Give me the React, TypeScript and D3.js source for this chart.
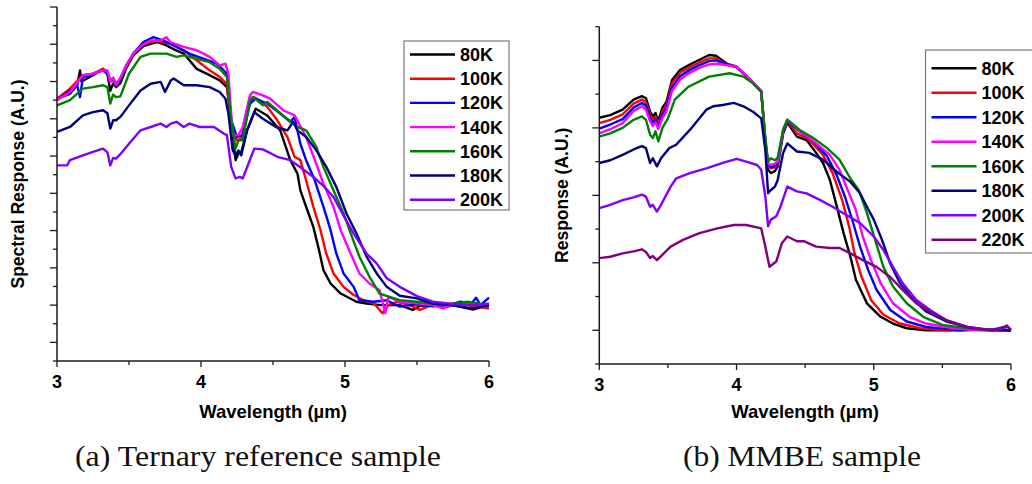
import React from "react";
import * as d3 from "d3";

type P = [number, number];

// ---------- Panel (a): Ternary reference sample ----------
const labelsA = ["80K", "100K", "120K", "140K", "160K", "180K", "200K"];
const colorsA = ["#000000", "#ff0000", "#0000ff", "#ff00ff", "#008000", "#000080", "#8000ff"];

const a80: P[] = [[3.0,5.54],[3.09,5.67],[3.14,5.9],[3.16,6.3],[3.17,6.0],[3.25,6.17],[3.32,6.34],[3.35,6.2],[3.37,5.75],[3.39,5.95],[3.41,5.85],[3.44,5.95],[3.48,6.35],[3.53,6.7],[3.6,6.95],[3.65,7.01],[3.7,7.06],[3.76,6.97],[3.82,6.85],[3.88,6.75],[3.97,6.34],[4.06,6.17],[4.13,6.03],[4.18,5.85],[4.21,4.96],[4.24,3.89],[4.26,4.07],[4.28,4.11],[4.32,4.69],[4.38,5.27],[4.46,5.09],[4.55,4.69],[4.62,3.89],[4.67,3.53],[4.69,3.08],[4.73,2.64],[4.78,2.1],[4.82,1.47],[4.85,0.94],[4.9,0.58],[4.97,0.31],[5.08,0.09],[5.15,0.04],[5.25,0.0],[5.38,0.0],[5.47,-0.13],[5.52,-0.02],[5.61,0.0],[5.75,0.0],[5.89,-0.12],[5.95,-0.05],[6.0,0.0]];
const a100: P[] = [[3.0,5.54],[3.09,5.81],[3.18,6.17],[3.25,6.21],[3.32,6.34],[3.35,6.25],[3.37,6.03],[3.39,6.1],[3.41,5.94],[3.44,6.08],[3.48,6.39],[3.53,6.75],[3.6,7.01],[3.69,7.1],[3.79,7.01],[3.88,6.84],[3.97,6.57],[4.06,6.3],[4.13,6.12],[4.18,5.94],[4.21,4.69],[4.25,4.42],[4.28,4.47],[4.33,5.32],[4.37,5.58],[4.46,5.32],[4.53,4.96],[4.6,4.51],[4.65,3.98],[4.69,3.89],[4.73,3.35],[4.78,2.64],[4.83,2.01],[4.87,1.38],[4.92,0.85],[4.99,0.49],[5.06,0.27],[5.13,0.13],[5.2,0.05],[5.26,-0.22],[5.3,0.0],[5.36,0.09],[5.45,0.0],[5.52,-0.13],[5.6,0.0],[5.75,0.04],[5.85,0.0],[6.0,-0.09]];
const a120: P[] = [[3.0,5.5],[3.09,5.76],[3.14,5.9],[3.16,5.58],[3.18,6.12],[3.25,6.2],[3.32,6.3],[3.35,6.2],[3.37,5.99],[3.39,6.05],[3.41,5.9],[3.44,6.05],[3.48,6.43],[3.53,6.75],[3.6,7.06],[3.67,7.19],[3.74,7.1],[3.83,6.93],[3.92,6.75],[4.02,6.61],[4.11,6.48],[4.18,6.21],[4.21,4.96],[4.25,4.51],[4.29,4.56],[4.34,5.41],[4.38,5.54],[4.46,5.41],[4.55,5.14],[4.62,4.92],[4.65,5.05],[4.69,4.33],[4.73,3.89],[4.79,3.35],[4.85,2.64],[4.9,2.01],[4.94,1.38],[4.99,0.85],[5.06,0.49],[5.1,0.13],[5.2,0.09],[5.29,0.13],[5.38,-0.04],[5.5,0.02],[5.61,-0.03],[5.72,0.0],[5.8,0.09],[5.88,0.05],[5.91,0.2],[5.94,0.0],[6.0,0.2]];
const a140: P[] = [[3.0,5.5],[3.09,5.72],[3.18,6.17],[3.25,6.21],[3.32,6.3],[3.35,6.3],[3.37,5.99],[3.39,6.1],[3.41,5.9],[3.44,6.1],[3.48,6.43],[3.53,6.75],[3.59,6.97],[3.65,7.1],[3.72,7.1],[3.76,7.19],[3.79,7.05],[3.88,6.93],[3.97,6.84],[4.06,6.66],[4.13,6.43],[4.17,6.48],[4.19,6.21],[4.22,4.56],[4.26,4.56],[4.29,4.78],[4.34,5.63],[4.36,5.72],[4.43,5.63],[4.48,5.54],[4.57,5.23],[4.65,5.09],[4.73,4.51],[4.8,3.8],[4.85,3.26],[4.92,2.64],[4.97,2.01],[5.04,1.38],[5.1,0.85],[5.17,0.58],[5.24,0.4],[5.28,-0.22],[5.3,0.22],[5.38,0.09],[5.5,0.05],[5.61,0.0],[5.68,-0.09],[5.75,0.0],[5.85,0.04],[6.0,0.0]];
const a160: P[] = [[3.0,5.36],[3.09,5.5],[3.18,5.81],[3.25,5.85],[3.32,5.9],[3.35,5.85],[3.37,5.41],[3.39,5.65],[3.41,5.58],[3.44,5.6],[3.5,6.21],[3.58,6.66],[3.65,6.75],[3.76,6.75],[3.83,6.66],[3.88,6.7],[3.97,6.61],[4.06,6.52],[4.13,6.34],[4.18,6.12],[4.21,4.96],[4.24,4.2],[4.26,4.42],[4.29,4.42],[4.34,5.5],[4.36,5.59],[4.43,5.36],[4.46,5.45],[4.57,5.09],[4.67,4.78],[4.73,4.69],[4.8,4.25],[4.85,3.71],[4.92,3.08],[4.99,2.46],[5.04,1.92],[5.1,1.3],[5.17,0.76],[5.24,0.31],[5.31,0.22],[5.38,0.13],[5.5,0.09],[5.68,0.0],[5.85,0.09],[6.0,0.0]];
const a180: P[] = [[3.0,4.65],[3.09,4.78],[3.18,5.09],[3.25,5.18],[3.32,5.23],[3.35,5.15],[3.37,4.74],[3.39,4.96],[3.41,4.96],[3.44,5.05],[3.5,5.36],[3.58,5.76],[3.65,5.94],[3.72,5.99],[3.75,5.72],[3.79,6.03],[3.81,6.08],[3.88,5.9],[3.97,5.9],[4.06,5.85],[4.13,5.72],[4.17,5.54],[4.19,5.14],[4.22,4.15],[4.24,4.02],[4.26,4.15],[4.28,4.02],[4.32,4.69],[4.37,5.18],[4.43,5.0],[4.52,4.78],[4.6,4.69],[4.64,4.92],[4.67,4.69],[4.73,4.51],[4.8,4.16],[4.87,3.71],[4.94,3.17],[5.01,2.46],[5.08,1.92],[5.15,1.3],[5.22,0.85],[5.29,0.49],[5.38,0.25],[5.5,0.18],[5.61,0.04],[5.73,0.0],[5.89,-0.09],[6.0,0.0]];
const a200: P[] = [[3.0,3.75],[3.07,3.75],[3.09,3.89],[3.18,4.02],[3.25,4.11],[3.32,4.2],[3.35,4.1],[3.37,3.75],[3.39,3.95],[3.41,3.93],[3.44,4.05],[3.5,4.33],[3.58,4.69],[3.65,4.78],[3.72,4.87],[3.76,4.78],[3.79,4.87],[3.83,4.92],[3.88,4.78],[3.92,4.87],[3.99,4.78],[4.09,4.78],[4.16,4.6],[4.18,4.56],[4.21,3.71],[4.24,3.4],[4.27,3.44],[4.29,3.4],[4.33,3.8],[4.37,4.2],[4.43,4.18],[4.53,3.98],[4.62,3.89],[4.69,3.7],[4.78,3.44],[4.85,3.2],[4.92,2.9],[4.99,2.4],[5.06,1.92],[5.15,1.38],[5.22,1.12],[5.29,0.72],[5.38,0.49],[5.5,0.24],[5.61,0.09],[5.73,0.04],[5.89,0.0],[6.0,0.04]];
const seriesA = [a80, a100, a120, a140, a160, a180, a200];

// ---------- Panel (b): MMBE sample ----------
const labelsB = ["80K", "100K", "120K", "140K", "160K", "180K", "200K", "220K"];
const colorsB = ["#000000", "#ff0000", "#0000ff", "#ff00ff", "#008000", "#000080", "#8000ff", "#800080"];

const b80: P[] = [[3.0,3.15],[3.08,3.19],[3.17,3.27],[3.25,3.42],[3.31,3.47],[3.34,3.44],[3.37,3.24],[3.39,3.17],[3.41,3.22],[3.43,3.1],[3.46,3.3],[3.49,3.39],[3.53,3.71],[3.59,3.86],[3.66,3.94],[3.73,4.01],[3.8,4.08],[3.85,4.07],[3.93,3.95],[4.0,3.91],[4.07,3.77],[4.18,3.54],[4.21,2.82],[4.23,2.38],[4.25,2.33],[4.28,2.36],[4.3,2.43],[4.34,2.92],[4.37,3.08],[4.44,2.87],[4.51,2.82],[4.58,2.63],[4.63,2.48],[4.68,2.23],[4.73,1.84],[4.78,1.44],[4.83,1.09],[4.87,0.75],[4.95,0.4],[5.05,0.2],[5.14,0.1],[5.24,0.03],[5.38,0.0],[5.6,0.0],[5.8,0.01],[6.0,0.0]];
const b100: P[] = [[3.0,3.07],[3.08,3.12],[3.17,3.2],[3.25,3.36],[3.31,3.42],[3.34,3.38],[3.37,3.2],[3.39,3.12],[3.41,3.17],[3.43,3.05],[3.46,3.25],[3.49,3.34],[3.53,3.66],[3.59,3.82],[3.66,3.9],[3.73,3.97],[3.8,4.03],[3.85,4.03],[3.93,3.94],[4.0,3.9],[4.07,3.77],[4.18,3.54],[4.21,2.8],[4.23,2.43],[4.25,2.4],[4.28,2.42],[4.3,2.46],[4.34,2.95],[4.37,3.1],[4.44,2.92],[4.53,2.82],[4.63,2.6],[4.7,2.33],[4.77,1.93],[4.82,1.54],[4.86,1.14],[4.91,0.8],[4.98,0.45],[5.07,0.23],[5.19,0.1],[5.34,0.03],[5.53,0.0],[5.7,0.01],[5.85,0.0],[6.0,0.0]];
const b120: P[] = [[3.0,2.99],[3.08,3.05],[3.17,3.13],[3.25,3.3],[3.31,3.37],[3.34,3.33],[3.37,3.15],[3.39,3.08],[3.41,3.13],[3.43,3.02],[3.46,3.2],[3.49,3.3],[3.53,3.6],[3.59,3.77],[3.66,3.86],[3.73,3.93],[3.8,3.99],[3.85,4.0],[3.93,3.94],[4.0,3.9],[4.07,3.77],[4.18,3.54],[4.21,2.8],[4.23,2.45],[4.25,2.42],[4.28,2.44],[4.3,2.48],[4.34,2.95],[4.37,3.1],[4.46,2.95],[4.56,2.8],[4.66,2.58],[4.73,2.3],[4.79,1.98],[4.85,1.59],[4.9,1.24],[4.96,0.89],[5.02,0.6],[5.12,0.3],[5.24,0.13],[5.38,0.05],[5.63,0.0],[5.8,0.01],[6.0,0.0]];
const b140: P[] = [[3.0,2.92],[3.08,2.98],[3.17,3.07],[3.25,3.25],[3.31,3.32],[3.34,3.27],[3.37,3.1],[3.39,3.03],[3.41,3.08],[3.43,2.98],[3.46,3.15],[3.49,3.25],[3.53,3.55],[3.59,3.72],[3.66,3.82],[3.73,3.89],[3.8,3.94],[3.85,3.95],[3.93,3.93],[4.0,3.91],[4.07,3.78],[4.18,3.55],[4.21,2.8],[4.23,2.47],[4.25,2.45],[4.28,2.47],[4.3,2.5],[4.34,2.97],[4.37,3.12],[4.46,2.96],[4.58,2.77],[4.68,2.6],[4.75,2.38],[4.81,2.08],[4.87,1.78],[4.92,1.39],[4.98,1.04],[5.05,0.7],[5.14,0.4],[5.26,0.2],[5.38,0.1],[5.58,0.03],[5.75,0.0],[6.0,0.0]];
const b160: P[] = [[3.0,2.87],[3.08,2.92],[3.17,3.0],[3.25,3.12],[3.31,3.17],[3.34,3.12],[3.37,2.9],[3.39,2.85],[3.41,2.95],[3.43,2.8],[3.46,3.0],[3.5,3.14],[3.55,3.42],[3.65,3.61],[3.8,3.76],[3.95,3.81],[4.05,3.76],[4.12,3.66],[4.18,3.54],[4.21,2.85],[4.23,2.5],[4.25,2.55],[4.28,2.52],[4.3,2.56],[4.34,2.98],[4.37,3.12],[4.46,2.97],[4.56,2.85],[4.66,2.7],[4.75,2.53],[4.83,2.25],[4.89,2.08],[4.95,1.74],[5.01,1.34],[5.07,0.94],[5.14,0.65],[5.24,0.4],[5.36,0.2],[5.5,0.08],[5.68,0.03],[5.87,0.0],[6.0,0.0]];
const b180: P[] = [[3.0,2.48],[3.08,2.52],[3.17,2.6],[3.25,2.68],[3.31,2.73],[3.34,2.7],[3.37,2.48],[3.39,2.55],[3.42,2.43],[3.45,2.55],[3.51,2.7],[3.56,2.75],[3.66,2.97],[3.78,3.27],[3.83,3.32],[3.9,3.34],[3.98,3.37],[4.05,3.32],[4.12,3.24],[4.18,3.14],[4.21,2.67],[4.23,2.03],[4.25,2.08],[4.28,2.13],[4.3,2.23],[4.34,2.63],[4.37,2.77],[4.44,2.65],[4.53,2.63],[4.63,2.53],[4.73,2.35],[4.83,2.2],[4.9,2.03],[4.95,1.83],[5.0,1.64],[5.06,1.34],[5.12,0.99],[5.19,0.7],[5.29,0.45],[5.38,0.28],[5.53,0.13],[5.68,0.05],[5.82,0.01],[6.0,0.0]];
const b200: P[] = [[3.0,1.81],[3.08,1.86],[3.17,1.93],[3.25,1.97],[3.31,2.01],[3.34,1.98],[3.37,1.83],[3.39,1.86],[3.42,1.76],[3.45,1.86],[3.52,2.13],[3.56,2.25],[3.66,2.33],[3.78,2.4],[3.9,2.48],[4.0,2.54],[4.07,2.5],[4.15,2.45],[4.18,2.38],[4.21,1.98],[4.23,1.54],[4.25,1.64],[4.29,1.69],[4.32,1.83],[4.37,2.13],[4.44,2.06],[4.51,2.03],[4.61,1.93],[4.7,1.83],[4.8,1.71],[4.9,1.59],[5.0,1.39],[5.07,1.19],[5.14,0.94],[5.21,0.7],[5.31,0.45],[5.41,0.3],[5.53,0.15],[5.68,0.05],[5.87,0.0],[5.95,0.03],[5.97,0.06],[6.0,0.01]];
const b220: P[] = [[3.0,1.07],[3.08,1.09],[3.17,1.14],[3.25,1.17],[3.31,1.2],[3.34,1.16],[3.37,1.07],[3.39,1.1],[3.42,1.04],[3.45,1.1],[3.52,1.24],[3.61,1.34],[3.73,1.44],[3.86,1.51],[3.98,1.56],[4.07,1.56],[4.18,1.51],[4.21,1.24],[4.24,0.94],[4.27,0.99],[4.29,1.02],[4.33,1.29],[4.37,1.39],[4.44,1.32],[4.49,1.32],[4.58,1.24],[4.68,1.22],[4.75,1.22],[4.83,1.14],[4.92,1.04],[5.02,0.94],[5.12,0.79],[5.21,0.6],[5.31,0.4],[5.43,0.25],[5.55,0.13],[5.7,0.04],[5.85,0.0],[5.95,0.05],[5.97,0.07],[6.0,0.0]];
const seriesB = [b80, b100, b120, b140, b160, b180, b200, b220];

const xTicksMajor = [3, 4, 5, 6];
const xTicksMinor = [3.5, 4.5, 5.5];
const xTitle = "Wavelength (µm)";

const FONT = "'Liberation Sans', Arial, sans-serif";

interface PanelProps {
  series: P[][];
  labels: string[];
  colors: string[];
  x0: number; x1: number; yTop: number; yBot: number;
  yDomain: [number, number];
  yTitle: string; yTitleX: number;
  legend: { x: number; y: number; w: number; h: number; y0: number; dy: number };
  tickLabelY: number; titleY: number;
}

function Panel(p: PanelProps) {
  const x = d3.scaleLinear().domain([3, 6]).range([p.x0, p.x1]);
  const y = d3.scaleLinear().domain(p.yDomain).range([p.yBot, p.yTop]);
  const line = d3.line<P>().x(d => x(d[0])).y(d => y(d[1]));
  const yMaj: number[] = [];
  const yMin: number[] = [];
  for (let v = Math.ceil(p.yDomain[0] * 2) / 2; v <= p.yDomain[1] + 1e-9; v += 0.5) {
    if (Math.abs(v - Math.round(v)) < 1e-9) yMaj.push(v); else yMin.push(v);
  }
  const axisColor = "#1a1a1a";
  return (
    <g>
      {p.series.map((s, i) => (
        <path key={i} d={line(s) || ""} fill="none" stroke={p.colors[i]} strokeWidth={2.4} strokeLinejoin="round" />
      ))}
      {/* axes */}
      <line x1={p.x0} x2={p.x0} y1={p.yTop} y2={p.yBot} stroke={axisColor} strokeWidth={1.5} />
      <line x1={p.x0} x2={p.x1} y1={p.yBot} y2={p.yBot} stroke={axisColor} strokeWidth={1.5} />
      {yMaj.map(v => <line key={"ym" + v} x1={p.x0 - 7} x2={p.x0} y1={y(v)} y2={y(v)} stroke={axisColor} strokeWidth={1.3} />)}
      {yMin.map(v => <line key={"yn" + v} x1={p.x0 - 4} x2={p.x0} y1={y(v)} y2={y(v)} stroke={axisColor} strokeWidth={1.3} />)}
      {xTicksMajor.map(v => <line key={"xm" + v} x1={x(v)} x2={x(v)} y1={p.yBot} y2={p.yBot + 6} stroke={axisColor} strokeWidth={1.3} />)}
      {xTicksMinor.map(v => <line key={"xn" + v} x1={x(v)} x2={x(v)} y1={p.yBot} y2={p.yBot + 4} stroke={axisColor} strokeWidth={1.3} />)}
      {xTicksMajor.map(v => (
        <text key={"xl" + v} x={x(v)} y={p.tickLabelY} textAnchor="middle" fontFamily={FONT} fontWeight="bold" fontSize={18} fill="#000">{v}</text>
      ))}
      <text x={(p.x0 + p.x1) / 2} y={p.titleY} textAnchor="middle" fontFamily={FONT} fontWeight="bold" fontSize={18.5} fill="#000">{xTitle}</text>
      <text transform={`translate(${p.yTitleX},${(p.yTop + p.yBot) / 2}) rotate(-90)`} textAnchor="middle" fontFamily={FONT} fontWeight="bold" fontSize={17.5} fill="#000">{p.yTitle}</text>
      {/* legend */}
      <rect x={p.legend.x} y={p.legend.y} width={p.legend.w} height={p.legend.h} fill="#fff" stroke="#7a7a7a" strokeWidth={1.2} />
      {p.labels.map((l, i) => {
        const ly = p.legend.y0 + i * p.legend.dy;
        return (
          <g key={l}>
            <line x1={p.legend.x + 6} x2={p.legend.x + 51} y1={ly} y2={ly} stroke={p.colors[i]} strokeWidth={2.4} />
            <text x={p.legend.x + 56} y={ly + 6.5} fontFamily={FONT} fontWeight="bold" fontSize={18} fill="#000">{l}</text>
          </g>
        );
      })}
    </g>
  );
}

export default function App() {
  return (
    <svg width={1032} height={484} style={{ position: "absolute", left: 0, top: 0, background: "#fff" }}>
      <rect x={0} y={0} width={1032} height={484} fill="#fff" />
      <Panel
        series={seriesA} labels={labelsA} colors={colorsA}
        x0={57} x1={489} yTop={7} yBot={361} yDomain={[-1.5, 8]}
        yTitle="Spectral Response (A.U.)" yTitleX={24}
        legend={{ x: 404, y: 41, w: 105, h: 169, y0: 54.5, dy: 24.2 }}
        tickLabelY={388} titleY={418}
      />
      <Panel
        series={seriesB} labels={labelsB} colors={colorsB}
        x0={599.3} x1={1011} yTop={26.7} yBot={364} yDomain={[-0.5, 4.5]}
        yTitle="Response (A.U.)" yTitleX={568}
        legend={{ x: 925.5, y: 50, w: 115, h: 203, y0: 68.3, dy: 24.5 }}
        tickLabelY={391} titleY={418}
      />
      <text x={258} y={466} textAnchor="middle" fontFamily="'Liberation Serif', 'Times New Roman', serif" fontSize={29} textLength={366} lengthAdjust="spacingAndGlyphs" fill="#111">(a) Ternary reference sample</text>
      <text x={802} y={466} textAnchor="middle" fontFamily="'Liberation Serif', 'Times New Roman', serif" fontSize={29} textLength={238} lengthAdjust="spacingAndGlyphs" fill="#111">(b) MMBE sample</text>
    </svg>
  );
}
